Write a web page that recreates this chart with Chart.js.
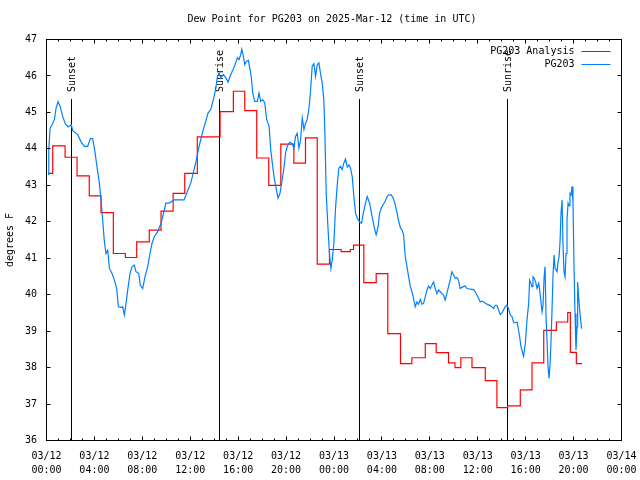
<!DOCTYPE html>
<html lang="en">
<head>
<meta charset="UTF-8">
<title>Dew Point for PG203</title>
<script src="https://cdn.jsdelivr.net/npm/chart.js@4"></script>
<style>
    body { margin: 0; background: #fff; }
    #wrap { width: 640px; height: 480px; }
</style>
</head>
<body>
<div id="wrap"><canvas id="dewChart" width="640" height="480"></canvas></div>
<script>
    // chart text
    const chartTitle = 'Dew Point for PG203 on 2025-Mar-12 (time in UTC)';
    const yAxisTitle = 'degrees F';
    const xTickDays = ['03/12', '03/12', '03/12', '03/12', '03/12', '03/12', '03/13', '03/13', '03/13', '03/13', '03/13', '03/13', '03/14'];
    const xTickTimes = ['00:00', '04:00', '08:00', '12:00', '16:00', '20:00', '00:00', '04:00', '08:00', '12:00', '16:00', '20:00', '00:00'];

    // sun events, hours after 03/12 00:00 UTC
    const eventNames = ['Sunset', 'Sunrise', 'Sunset', 'Sunrise'];
    const eventHours = [2.07, 14.43, 26.13, 38.45];
    const eventTop = 45.36;

    // PG203 Analysis (stepped), hours after 03/12 00:00 UTC
    const analysisHours = [0.13, 0.52, 1.55, 2.55, 3.57, 4.55, 5.58, 6.58, 7.53, 8.58, 9.56, 10.57, 11.54, 12.59,
        14.49, 15.60, 16.55, 17.55, 18.55, 19.56, 20.65, 21.62, 22.60, 23.62, 24.60, 25.36, 25.63, 26.49, 27.52,
        28.49, 29.55, 30.50, 31.62, 32.53, 33.56, 34.10, 34.59, 35.52, 36.63, 37.60, 38.50, 39.55, 40.53, 41.51,
        42.56, 43.51, 43.73, 44.23, 44.70];
    const analysisValues = [43.33, 44.08, 43.77, 43.26, 42.71, 42.25, 41.13, 41.02, 41.45, 41.77, 42.29, 42.78, 43.33, 44.33,
        45.02, 45.58, 45.05, 43.75, 43.0, 44.13, 43.61, 44.3, 40.84, 41.24, 41.18, 41.24, 41.36, 40.33, 40.58,
        38.93, 38.11, 38.27, 38.66, 38.41, 38.13, 38.0, 38.27, 38.0, 37.64, 36.9, 36.95, 37.39, 38.13, 39.02,
        39.25, 39.51, 38.42, 38.11, 38.11];

    // PG203 station observations
    const stationHours = [
        0.13, 0.19, 0.30, 0.46, 0.66, 0.80, 0.96, 1.13, 1.35, 1.57, 1.80, 2.07, 2.19, 2.60, 2.88, 3.16, 3.44, 3.66,
        3.85, 4.02, 4.21, 4.41, 4.55, 4.69, 4.82, 4.96, 5.11, 5.25, 5.47, 5.67, 5.86, 6.00, 6.22, 6.36, 6.50, 6.64,
        6.78, 6.97, 7.14, 7.33, 7.47, 7.70, 7.83, 8.03, 8.22, 8.45, 8.64, 8.81, 9.00, 9.28, 9.56, 9.84,
        9.96, 10.23, 10.65, 11.48, 11.76, 12.04, 12.32, 12.51, 12.68, 12.87, 13.09, 13.29, 13.48, 13.71, 13.93, 14.12,
        14.27, 14.41, 14.55, 14.77, 14.97, 15.16, 15.38, 15.58, 15.74, 15.94, 16.08, 16.22, 16.30, 16.41, 16.55, 16.69,
        16.85, 16.99, 17.10, 17.22, 17.38, 17.60, 17.74, 17.88, 18.05, 18.22, 18.38, 18.58, 18.72, 18.85, 18.99, 19.19,
        19.33, 19.49, 19.63,
        19.82, 19.96, 20.10, 20.29, 20.51, 20.65, 20.79, 20.93, 21.07, 21.21, 21.35, 21.49, 21.62, 21.76, 21.90, 22.04,
        22.18, 22.32, 22.46, 22.60, 22.74, 22.87, 23.01, 23.15, 23.24, 23.35, 23.49, 23.62, 23.74, 23.85, 23.99, 24.12,
        24.26, 24.40, 24.54, 24.68, 24.82, 24.96, 25.11, 25.25, 25.38, 25.52, 25.66, 25.80, 25.94, 26.13, 26.30, 26.44,
        26.63, 26.77, 26.97, 27.13, 27.27, 27.41, 27.52, 27.69, 27.80, 27.94, 28.08, 28.25, 28.44, 28.58, 28.77, 28.94,
        29.08, 29.27, 29.41, 29.55,
        29.67, 29.81, 29.95, 30.09, 30.23, 30.37, 30.51, 30.64, 30.78, 30.92, 31.06, 31.20, 31.34, 31.48, 31.62, 31.76,
        31.89, 32.03, 32.17, 32.31, 32.45, 32.59, 32.73, 32.87, 33.01, 33.14, 33.28, 33.42, 33.56, 33.70, 33.84, 33.98,
        34.12, 34.26, 34.39, 34.53, 34.67, 34.81, 34.95, 35.10, 35.38, 35.65, 35.79, 35.93, 36.07, 36.21, 36.35, 36.49,
        36.77, 37.04, 37.18, 37.32, 37.46, 37.60, 37.74, 37.88, 38.02, 38.15, 38.29, 38.43, 38.57,
        38.72, 38.86, 39.00, 39.14, 39.28, 39.36, 39.50, 39.61, 39.75, 39.83, 39.97, 40.11, 40.25, 40.33, 40.44, 40.53,
        40.61, 40.72, 40.83, 40.95, 41.09, 41.17, 41.29, 41.37, 41.45, 41.54, 41.62, 41.70, 41.79, 41.87, 41.95, 42.04,
        42.12, 42.20, 42.29, 42.37, 42.45, 42.54, 42.62, 42.70, 42.79, 42.87, 42.95, 43.04, 43.12, 43.20, 43.29, 43.37,
        43.45, 43.54, 43.62, 43.70, 43.79, 43.87, 43.95, 44.04, 44.12, 44.20, 44.29, 44.34, 44.42, 44.51, 44.59, 44.67];
    const stationValues = [
        43.3, 43.98, 44.57, 44.66, 44.8, 45.12, 45.3, 45.17, 44.89, 44.69, 44.6, 44.66, 44.5, 44.39, 44.2, 44.07, 44.07, 44.28,
        44.28, 43.98, 43.52, 43.06, 42.6, 42.05, 41.5, 41.13, 41.22, 40.72, 40.58, 40.4, 40.17, 39.67, 39.65, 39.67, 39.44, 39.76,
        40.13, 40.58, 40.77, 40.81, 40.63, 40.58, 40.26, 40.17, 40.49, 40.77, 41.13, 41.41, 41.59, 41.73, 41.96, 42.33,
        42.51, 42.51, 42.6, 42.6, 42.83, 43.06, 43.43, 43.7, 43.98, 44.25, 44.53, 44.75, 44.98, 45.08, 45.35, 45.63,
        45.99, 46.08, 45.95, 46.04, 45.95, 45.83, 46.04, 46.18, 46.31, 46.5, 46.45, 46.59, 46.73, 46.59, 46.31, 46.4,
        46.43, 46.18, 45.95, 45.53, 45.3, 45.3, 45.53, 45.3, 45.35, 45.26, 44.8, 44.62, 43.98, 43.61, 43.24, 42.88,
        42.65, 42.78, 43.06,
        43.47, 43.89, 44.07, 44.18, 44.14, 44.02, 44.34, 44.43, 44.02, 44.25, 44.85, 44.53, 44.7, 44.8, 45.08, 45.58,
        46.27, 46.34, 45.99, 46.31, 46.36, 46.08, 45.81, 45.35, 44.43, 42.78, 41.87, 41.13, 40.72, 40.95, 41.41, 42.33,
        42.97, 43.47, 43.52, 43.43, 43.61, 43.72, 43.5, 43.56, 43.47, 43.24, 42.69, 42.23, 42.1, 42.0, 41.96, 42.23,
        42.51, 42.69, 42.51, 42.23, 42.0, 41.78, 41.64, 41.87, 42.23, 42.37, 42.46, 42.55, 42.69, 42.74, 42.74, 42.65,
        42.51, 42.23, 42.0, 41.83,
        41.78, 41.64, 41.04, 40.77, 40.49, 40.22, 40.08, 39.9, 39.67, 39.8, 39.74, 39.87, 39.74, 39.76, 39.94, 40.13,
        40.24, 40.17, 40.26, 40.35, 40.17, 40.03, 40.13, 40.08, 40.03, 39.99, 39.85, 40.03, 40.22, 40.4, 40.63, 40.54,
        40.45, 40.47, 40.4, 40.17, 40.2, 40.22, 40.24, 40.17, 40.15, 40.14, 40.08, 39.99, 39.9, 39.8, 39.82, 39.8,
        39.74, 39.7, 39.67, 39.62, 39.71, 39.71, 39.58, 39.46, 39.5, 39.58, 39.67, 39.71, 39.62,
        39.44, 39.4, 39.23, 39.23, 39.25, 39.12, 38.84, 38.57, 38.4, 38.31, 38.66, 39.3, 39.76, 40.4, 40.31, 40.22,
        40.49, 40.45, 40.35, 40.17, 40.31, 40.13, 39.76, 39.53, 39.72, 40.49, 40.77, 39.39, 38.66, 38.02, 37.7, 38.11,
        38.75, 39.58, 40.58, 41.09, 40.72, 40.68, 40.63, 40.9, 41.04, 41.45, 42.23, 42.6, 41.32, 40.63, 40.49, 41.13,
        42.05, 42.51, 42.44, 42.78, 42.74, 42.97, 42.51, 40.7, 39.48, 38.48, 39.12, 40.35, 39.94, 39.58, 39.3, 39.07];

    const monoFont = '"DejaVu Sans Mono", "Liberation Mono", monospace';

    function toPoints(xs, ys) {
        return xs.map((x, i) => ({ x: x, y: ys[i] }));
    }

    function crisp(v) {
        return Math.round(v - 0.5) + 0.5;
    }

    // gnuplot look: closed frame, inward ticks, sun markers, title and legend
    const gnuplotFrame = {
        id: 'gnuplotFrame',
        beforeDatasetsDraw(chart) {
            const { ctx, chartArea, scales } = chart;
            const topPx = scales.y.getPixelForValue(eventTop);
            ctx.save();
            ctx.strokeStyle = '#000';
            ctx.lineWidth = 1;
            ctx.fillStyle = '#000';
            ctx.font = '10px ' + monoFont;
            eventHours.forEach((h, i) => {
                const x = crisp(scales.x.getPixelForValue(h));
                ctx.beginPath();
                ctx.moveTo(x, Math.round(topPx));
                ctx.lineTo(x, chartArea.bottom);
                ctx.stroke();
                ctx.save();
                ctx.translate(x + 1, Math.round(topPx) - 7);
                ctx.rotate(-Math.PI / 2);
                ctx.textAlign = 'left';
                ctx.textBaseline = 'middle';
                ctx.fillText(eventNames[i], 0, 0);
                ctx.restore();
            });
            ctx.restore();
        },
        afterDraw(chart) {
            const { ctx, chartArea, scales } = chart;
            const { left, right, top, bottom } = chartArea;
            ctx.save();
            ctx.strokeStyle = '#000';
            ctx.lineWidth = 1;

            // frame
            ctx.strokeRect(left, top, right - left, bottom - top);

            // x ticks: major every 4 h, minor every hour, bottom and top
            ctx.beginPath();
            for (let h = 0; h <= 48; h++) {
                const x = crisp(scales.x.getPixelForValue(h));
                const len = h % 4 === 0 ? 4 : 2;
                ctx.moveTo(x, bottom);
                ctx.lineTo(x, bottom - len);
                ctx.moveTo(x, top);
                ctx.lineTo(x, top + len);
            }
            // y ticks, left and right
            for (let v = 36; v <= 47; v++) {
                const y = crisp(scales.y.getPixelForValue(v));
                ctx.moveTo(left, y);
                ctx.lineTo(left + 4, y);
                ctx.moveTo(right, y);
                ctx.lineTo(right - 4, y);
            }
            ctx.stroke();

            // title
            ctx.fillStyle = '#000';
            ctx.font = '10px ' + monoFont;
            ctx.textAlign = 'center';
            ctx.textBaseline = 'middle';
            ctx.fillText(chartTitle, (left + right) / 2 - 2, 19.5);

            // legend, top right inside the frame
            chart.data.datasets.forEach((ds, i) => {
                const y = Math.round(top + 11 + i * 13) + 0.5;
                ctx.textAlign = 'right';
                ctx.fillStyle = '#000';
                ctx.fillText(ds.label, right - 47, y);
                ctx.strokeStyle = ds.borderColor;
                ctx.beginPath();
                ctx.moveTo(right - 40, y);
                ctx.lineTo(right - 11, y);
                ctx.stroke();
            });
            ctx.restore();
        }
    };

    const ctx = document.getElementById('dewChart').getContext('2d');
    new Chart(ctx, {
        type: 'line',
        data: {
            datasets: [
                {
                    label: 'PG203 Analysis',
                    data: toPoints(analysisHours, analysisValues),
                    borderColor: '#ff0000',
                    borderWidth: 1.2,
                    pointRadius: 0,
                    stepped: true,
                    order: 1
                },
                {
                    label: 'PG203',
                    data: toPoints(stationHours, stationValues),
                    borderColor: '#0080ff',
                    borderWidth: 1.2,
                    pointRadius: 0,
                    order: 0
                }
            ]
        },
        options: {
            responsive: false,
            animation: false,
            devicePixelRatio: 1,
            layout: { padding: { top: 39.5, right: 18.5, left: 0, bottom: 0 } },
            plugins: {
                legend: { display: false },
                tooltip: { enabled: false },
                title: { display: false }
            },
            scales: {
                x: {
                    type: 'linear',
                    min: 0,
                    max: 48,
                    grid: { display: false, drawTicks: false },
                    border: { display: false },
                    ticks: {
                        stepSize: 4,
                        autoSkip: false,
                        maxRotation: 0,
                        padding: 9,
                        color: '#000',
                        font: { family: monoFont, size: 10, lineHeight: 1.4 },
                        callback: (v) => [xTickDays[v / 4], xTickTimes[v / 4]]
                    },
                    afterFit: (scale) => {
                        scale.height = 39.5;
                        scale.paddingLeft = 0;
                        scale.paddingRight = 0;
                    }
                },
                y: {
                    min: 36,
                    max: 47,
                    grid: { display: false, drawTicks: false },
                    border: { display: false },
                    ticks: {
                        stepSize: 1,
                        padding: 9.5,
                        color: '#000',
                        font: { family: monoFont, size: 10 }
                    },
                    title: {
                        display: true,
                        text: yAxisTitle,
                        color: '#000',
                        font: { family: monoFont, size: 10 },
                        padding: { top: 4, bottom: 4 }
                    },
                    afterFit: (scale) => {
                        scale.width = 46.5;
                        scale.paddingTop = 0;
                        scale.paddingBottom = 0;
                    }
                }
            }
        },
        plugins: [gnuplotFrame]
    });
</script>
</body>
</html>
